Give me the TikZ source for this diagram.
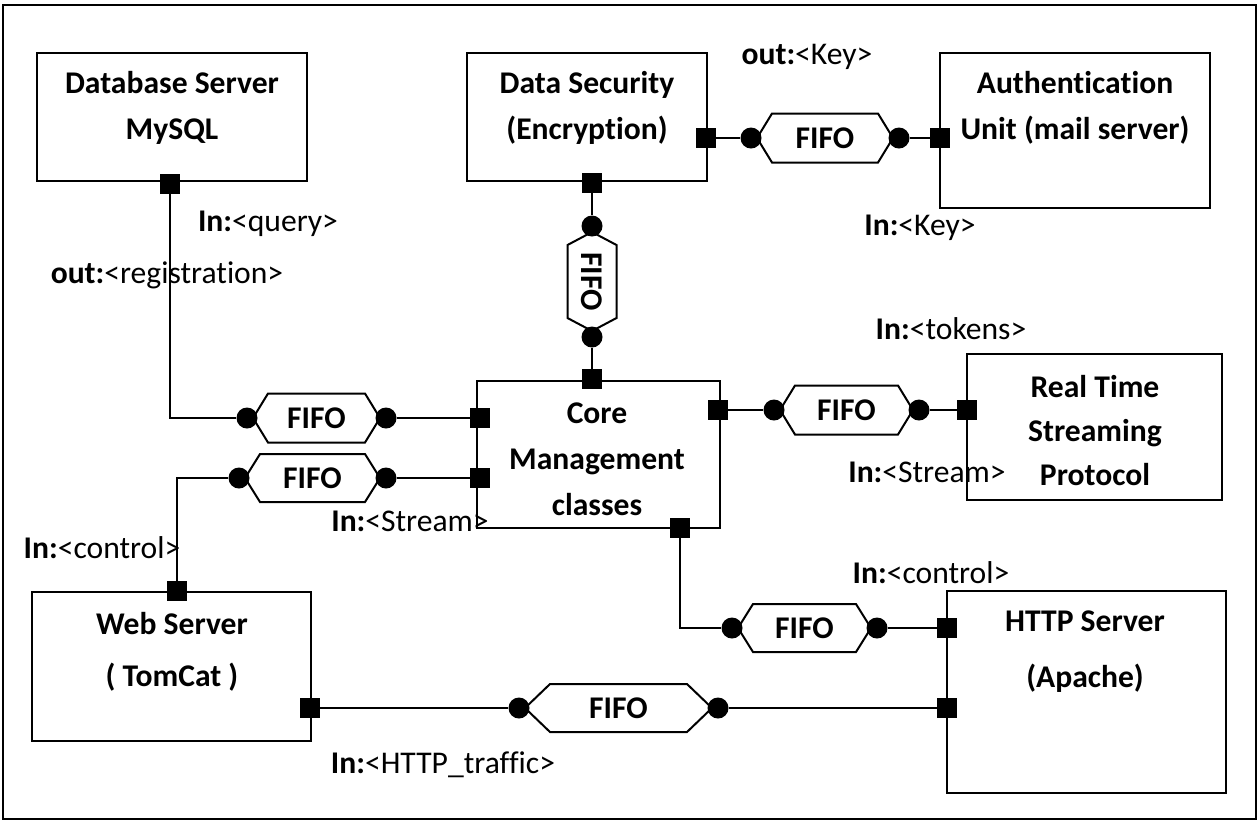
\documentclass[tikz,border=0pt]{standalone}
\usepackage{fontspec}
\setmainfont{Carlito}[Ligatures=NoCommon]
\tikzset{
 box/.style={draw, line width=1.2pt, inner sep=0pt, outer sep=0pt},
 boxtext/.style={font=\bfseries\fontsize{15.8}{23}\selectfont, align=center, inner sep=0pt},
 lbl/.style={font=\fontsize{15.8}{19}\selectfont, inner sep=0pt},
 port/.style={fill=black, rectangle, minimum size=10pt, inner sep=0pt},
 dot/.style={fill=black, circle, minimum size=10.5pt, inner sep=0pt},
 wire/.style={line width=1pt},
 hexline/.style={line width=1pt, line join=miter},
 fifotext/.style={font=\bfseries\fontsize{15.8}{19}\selectfont, inner sep=0pt},
}
\newcommand\fifoh[6]{%
 \node[fifotext] (#1) at (#2,#3) {FIFO};
 \draw[hexline] (#2-#4,#3) -- (#2-#4+#5,#3-#6) -- (#2+#4-#5,#3-#6) -- (#2+#4,#3) -- (#2+#4-#5,#3+#6) -- (#2-#4+#5,#3+#6) -- cycle;
 \node[dot] (#1-l) at (#2-#4-6,#3) {};
 \node[dot] (#1-r) at (#2+#4+6,#3) {};}
\newcommand\fifov[6]{%
 \node[fifotext, rotate=-90] (#1) at (#2,#3) {FIFO};
 \draw[hexline] (#2,#3-#4) -- (#2+#6,#3-#4+#5) -- (#2+#6,#3+#4-#5) -- (#2,#3+#4) -- (#2-#6,#3+#4-#5) -- (#2-#6,#3-#4+#5) -- cycle;
 \node[dot] (#1-t) at (#2,#3-#4-6) {};
 \node[dot] (#1-b) at (#2,#3+#4+6) {};}
\begin{document}
\begin{tikzpicture}[x=0.5pt, y=-0.5pt]
\useasboundingbox (0,0) rectangle (1258,821);
\draw[line width=1.2pt] (3,5) rectangle (1256,819);
% boxes
\node[box, minimum width=135pt, minimum height=64pt] (db) at (172,117) {};
\node[boxtext] (dbt) at (172,108) {Database Server\\MySQL};
\node[box, minimum width=120pt, minimum height=64pt] (ds) at (587,117) {};
\node[boxtext] (dst) at (587,108) {Data Security\\(Encryption)};
\node[box, minimum width=135pt, minimum height=77.5pt] (au) at (1075,130.5) {};
\node[boxtext] (aut) at (1075,108) {Authentication\\Unit (mail server)};
\node[box, minimum width=121.5pt, minimum height=73.5pt] (co) at (598.5,454.5) {};
\node[boxtext] (cot1) at (597,459) {Core\\Management\\classes};
\node[box, minimum width=127.5pt, minimum height=73pt] (rt) at (1094.5,427) {};
\node[boxtext, font=\bfseries\fontsize{15.8}{22}\selectfont] (rtt) at (1095,431) {Real Time\\Streaming\\Protocol};
\node[box, minimum width=139.5pt, minimum height=74.5pt] (we) at (171.5,666.5) {};
\node[boxtext, font=\bfseries\fontsize{15.8}{26}\selectfont] (wett) at (172,652) {Web Server\\( TomCat )};
\node[box, minimum width=139.5pt, minimum height=101pt] (ht) at (1086.5,692) {};
\node[boxtext, font=\bfseries\fontsize{15.8}{28}\selectfont] (htt) at (1085,652) {HTTP Server\\(Apache)};
% fifos
\fifoh{f1}{825}{138}{68}{15}{24.5}
\fifov{f2}{592}{281.5}{49.5}{13}{24.5}
\fifoh{f3}{316.5}{418}{63.5}{15}{24.5}
\fifoh{f4}{312.5}{478}{67.5}{15}{24}
\fifoh{f5}{846.5}{410}{66.5}{15}{24.5}
\fifoh{f6}{804.5}{628}{66.5}{15}{24}
\fifoh{f7}{618.5}{708}{93.5}{25}{24}
% ports
\node[port] (dbp) at (170,184) {};
\node[port] (dsr) at (706,138) {};
\node[port] (dsb) at (592,183) {};
\node[port] (aul) at (940,138) {};
\node[port] (cotp) at (592,379) {};
\node[port] (col1) at (480,418) {};
\node[port] (col2) at (480,478) {};
\node[port] (cor) at (718,410) {};
\node[port] (cob) at (680,528) {};
\node[port] (rtl) at (967,410) {};
\node[port] (htl1) at (947,628) {};
\node[port] (htl2) at (947,708) {};
\node[port] (wet) at (177,591) {};
\node[port] (wer) at (310,708) {};
% connectors
\draw[wire] (dbp) |- (f3-l);
\draw[wire] (f3-r) -- (col1);
\draw[wire] (f4-l) -| (wet);
\draw[wire] (f4-r) -- (col2);
\draw[wire] (dsb) -- (f2-t);
\draw[wire] (f2-b) -- (cotp);
\draw[wire] (dsr) -- (f1-l);
\draw[wire] (f1-r) -- (aul);
\draw[wire] (cor) -- (f5-l);
\draw[wire] (f5-r) -- (rtl);
\draw[wire] (cob) |- (f6-l);
\draw[wire] (f6-r) -- (htl1);
\draw[wire] (wer) -- (f7-l);
\draw[wire] (f7-r) -- (htl2);
% labels
\node[lbl] (l1) at (807,57) {\textbf{out:}<Key>};
\node[lbl] (l2) at (268,224) {\textbf{In:}<query>};
\node[lbl] (l3) at (167,275) {\textbf{out:}<registration>};
\node[lbl] (l4) at (920,228) {\textbf{In:}<Key>};
\node[lbl] (l5) at (951,329) {\textbf{In:}<tokens>};
\node[lbl] (l6) at (927,472) {\textbf{In:}<Stream>};
\node[lbl] (l7) at (410,521) {\textbf{In:}<Stream>};
\node[lbl] (l8) at (102,548) {\textbf{In:}<control>};
\node[lbl] (l9) at (931,573) {\textbf{In:}<control>};
\node[lbl] (l10) at (443,765) {\textbf{In:}<HTTP\_traffic>};
\end{tikzpicture}
\end{document}
